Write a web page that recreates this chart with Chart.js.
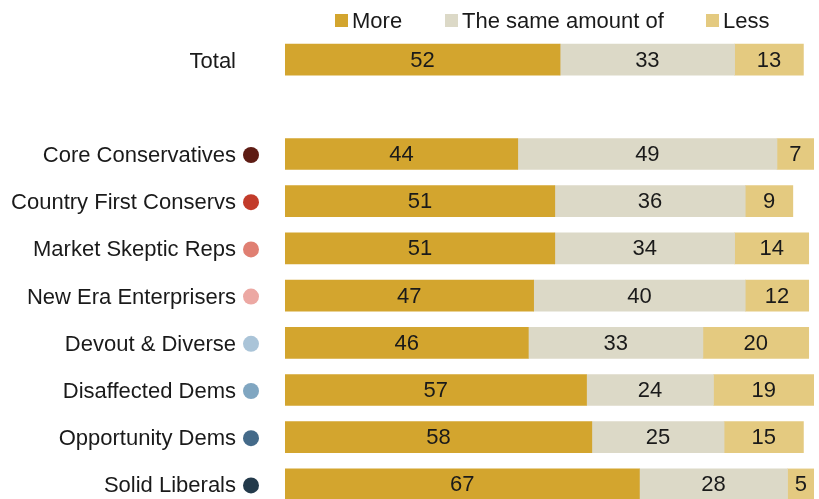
<!DOCTYPE html>
<html><head><meta charset="utf-8">
<script src="https://cdn.jsdelivr.net/npm/chart.js@4/dist/chart.umd.min.js"></script>
<style>
html,body{margin:0;padding:0;background:#fff;overflow:hidden;}
#wrap{position:relative;width:819px;height:508px;}
#legend{position:absolute;top:0;left:0;width:819px;height:40px;font-family:"Liberation Sans",Arial,sans-serif;font-size:22px;color:#1a1a1a;}
#legend .it{position:absolute;top:8px;display:flex;align-items:center;line-height:25px;}
#legend .sw{width:13px;height:13px;margin-right:4px;}
</style></head>
<body>
<div id="wrap">
<canvas id="c"></canvas>
<div id="legend"></div>
</div>
<script>
const categories = ["Total", "", "Core Conservatives", "Country First Conservs", "Market Skeptic Reps", "New Era Enterprisers", "Devout & Diverse", "Disaffected Dems", "Opportunity Dems", "Solid Liberals"];
const moreValues = [52, null, 44, 51, 51, 47, 46, 57, 58, 67];
const sameValues = [33, null, 49, 36, 34, 40, 33, 24, 25, 28];
const lessValues = [13, null, 7, 9, 14, 12, 20, 19, 15, 5];
const seriesNames = ["More", "The same amount of", "Less"];
const seriesColors = ["#D3A52E", "#DCD9C7", "#E4CA80"];
const dotColors = [null, null, "#5E1C14", "#C23B2A", "#E07F72", "#ECA8A3", "#AAC4D8", "#80A6C1", "#446A89", "#233A4B"];
const legendLeft = [335, 445, 706];

const FONT = '"Liberation Sans", Arial, sans-serif';

const leg = document.getElementById('legend');
seriesNames.forEach((n,i)=>{
  const d=document.createElement('div');d.className='it';
  d.style.left=legendLeft[i]+'px';
  d.innerHTML='<span class="sw" style="background:'+seriesColors[i]+'"></span><span>'+n+'</span>';
  leg.appendChild(d);
});

const labelPlugin = {
  id:'labels',
  afterDatasetsDraw(chart){
    const ctx=chart.ctx;
    ctx.save();
    ctx.font='22px '+FONT;
    ctx.fillStyle='#1a1a1a';
    ctx.textAlign='center';ctx.textBaseline='middle';
    chart.data.datasets.forEach((ds,di)=>{
      const meta=chart.getDatasetMeta(di);
      meta.data.forEach((bar,i)=>{
        const v=ds.data[i];
        if(v==null) return;
        const p=bar.getProps(['x','y','base'],true);
        ctx.fillText(String(v),(p.x+p.base)/2,p.y+1);
      });
    });
    const ys=chart.scales.y;
    dotColors.forEach((c,i)=>{
      if(!c) return;
      const y=ys.getPixelForValue(i);
      ctx.beginPath();
      ctx.arc(chart.chartArea.left-34,y+1,8,0,Math.PI*2);
      ctx.fillStyle=c;ctx.fill();
    });
    ctx.restore();
  }
};

const ch = new Chart(document.getElementById('c'),{
  type:'bar',
  data:{labels:categories,datasets:[
    {label:seriesNames[0],data:moreValues,backgroundColor:seriesColors[0]},
    {label:seriesNames[1],data:sameValues,backgroundColor:seriesColors[1]},
    {label:seriesNames[2],data:lessValues,backgroundColor:seriesColors[2]}
  ]},
  options:{
    indexAxis:'y',responsive:true,maintainAspectRatio:false,animation:false,
    layout:{padding:{top:36,right:5,bottom:0,left:0}},
    datasets:{bar:{barThickness:31,borderWidth:0}},
    plugins:{legend:{display:false},tooltip:{enabled:false}},
    scales:{
      x:{stacked:true,min:0,max:100,display:false},
      y:{stacked:true,grid:{display:false},border:{display:false},
         afterFit(s){s.width=285;s.paddingTop=0;s.paddingBottom=0;},
         ticks:{padding:41,labelOffset:2,color:'#1a1a1a',font:{family:FONT,size:22}}}
    }
  },
  plugins:[labelPlugin]
});
</script>
</body></html>
